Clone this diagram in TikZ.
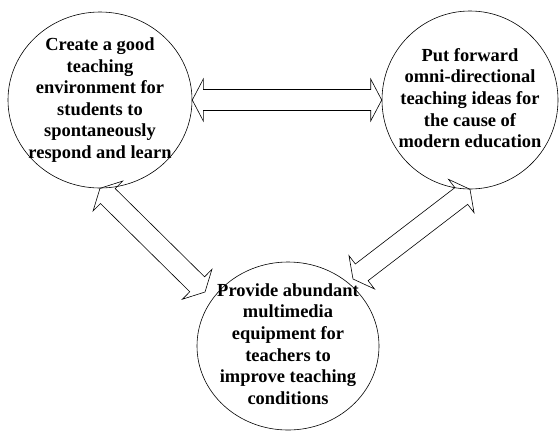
\documentclass[tikz,border=0pt]{standalone}
\usepackage{fontspec}
\setmainfont{Liberation Serif}
\usetikzlibrary{shapes.geometric,calc}

\newcommand{\dblarrow}[2]{%
\draw [blockarrow] (#1)
  -- ($(#1)!11bp!(#2)!21bp!90:(#2)$) -- ($(#1)!11bp!(#2)!10.5bp!90:(#2)$)
  -- ($(#2)!11bp!(#1)!10.5bp!-90:(#1)$) -- ($(#2)!11bp!(#1)!21bp!-90:(#1)$)
  -- (#2)
  -- ($(#2)!11bp!(#1)!21bp!90:(#1)$) -- ($(#2)!11bp!(#1)!10.5bp!90:(#1)$)
  -- ($(#1)!11bp!(#2)!10.5bp!-90:(#2)$) -- ($(#1)!11bp!(#2)!21bp!-90:(#2)$)
  -- cycle;}

\begin{document}
\begin{tikzpicture}[x=1bp,y=-1bp,line width=0.6bp,
  bubble/.style={draw,ellipse,inner sep=0pt},
  bubbletext/.style={align=center,inner sep=0pt,font=\bfseries\fontsize{18.5}{21.7}\selectfont},
  blockarrow/.style={draw,line join=miter}]
\useasboundingbox (0,0) rectangle (560,432);

\node [bubble,minimum width=184bp,minimum height=176bp] (L) at (100,100) {};
\node [bubble,minimum width=176bp,minimum height=178bp] (R) at (470,100) {};
\node [bubble,minimum width=182bp,minimum height=168bp] (B) at (288,346) {};

\node [bubbletext] (Ltxt) at (L) {Create a good\\teaching\\environment for\\students to\\spontaneously\\respond and learn};
\node [bubbletext] (Rtxt) at (470,98) {Put forward\\omni-directional\\teaching ideas for\\the cause of\\modern education};
\node [bubbletext] (Btxt) at (288,344) {Provide abundant\\multimedia\\equipment for\\teachers to\\improve teaching\\conditions};

\coordinate (BL) at (205,292);
\coordinate (BR) at (353,279);

\dblarrow{L.east}{R.west}
\dblarrow{L.south}{BL}
\dblarrow{R.south}{BR}

\end{tikzpicture}
\end{document}
